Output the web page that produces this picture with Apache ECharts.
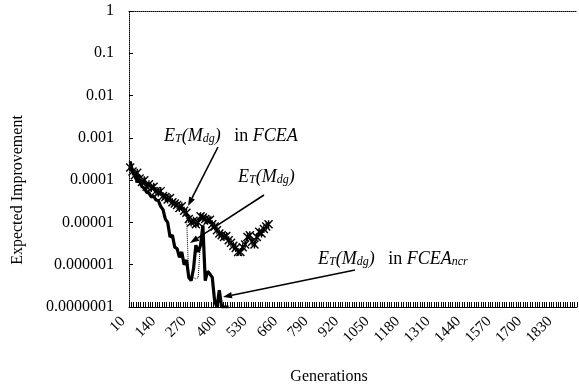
<!DOCTYPE html>
<html><head><meta charset="utf-8">
<script src="https://cdn.jsdelivr.net/npm/echarts@6/dist/echarts.min.js"></script>
<style>html,body{margin:0;padding:0;background:#fff}#c{width:579px;height:390px}</style>
</head><body><div id="c"></div>
<script>
// x tick labels (every 13th category)
const xTickLabels = [10,140,270,400,530,660,790,920,1050,1180,1310,1440,1570,1700,1830];
// y tick labels (log decades 1 .. 1e-7)
const yTickLabels = ['1','0.1','0.01','0.001','0.0001','0.00001','0.000001','0.0000001'];
// categories: generations 10..1910 step 10
const generations = [];
for (let g = 10; g <= 1910; g += 10) generations.push(String(g));

// E_T(M_dg) in FCEA  (starred line), gens 10..600
const etFCEA = [2.0e-4,1.6e-4,1.3e-4,1.5e-4,1.1e-4,9e-5,1.0e-4,7e-5,8e-5,6.5e-5,
  7e-5,5.5e-5,5e-5,5.5e-5,4.2e-5,4e-5,3.5e-5,3.8e-5,3e-5,2.8e-5,
  2.6e-5,2.2e-5,2.4e-5,1.9e-5,1.7e-5,1.2e-5,1.0e-5,1.1e-5,9e-6,1.0e-5,
  1.4e-5,1.3e-5,1.2e-5,1.1e-5,1.15e-5,9e-6,8e-6,6.5e-6,5.5e-6,5e-6,
  4.5e-6,4.8e-6,3.8e-6,3.3e-6,2.8e-6,2.5e-6,2.0e-6,2.0e-6,2.6e-6,3.0e-6,
  4.5e-6,5.0e-6,3.5e-6,3.0e-6,4.5e-6,6.0e-6,5.5e-6,7.0e-6,8.0e-6,9.0e-6];
// E_T(M_dg) (thin dotted line), gens 10..310
const etMdg = [1.9e-4,1.5e-4,1.3e-4,1.4e-4,1.05e-4,9e-5,9.5e-5,7e-5,7.5e-5,6.5e-5,
  6.5e-5,5.5e-5,5e-5,5e-5,4.2e-5,4e-5,3.4e-5,3.6e-5,3e-5,2.7e-5,
  2.5e-5,2.2e-5,2.3e-5,1.9e-5,1.6e-5,4.5e-7,4.2e-7,5e-7,4.6e-7,5e-7,3.5e-6];
// E_T(M_dg) in FCEA_ncr (thick line), gens 10..430
const etFCEAncr = [2.8e-4,1.6e-4,1.4e-4,0.9e-4,1.0e-4,7e-5,6.5e-5,5.2e-5,5.0e-5,4.0e-5,
  4.2e-5,3.4e-5,3.3e-5,2.4e-5,2.0e-5,1.2e-5,1.0e-5,4.5e-6,5.0e-6,2.6e-6,
  2.4e-6,1.5e-6,2.0e-6,1.0e-6,1.3e-6,5e-7,4.2e-7,8e-7,2.9e-6,2.0e-6,
  2.9e-6,8.5e-6,4.2e-7,7e-7,6e-7,5e-7,1.4e-7,1e-7,2.5e-7,1e-7,1e-7,1e-7,1e-7];

const FONT = 'Liberation Serif';
const chart = echarts.init(document.getElementById('c'), null, {renderer:'canvas'});

function arrow(x1,y1,x2,y2){
  const a = Math.atan2(y2-y1, x2-x1), L = 9, W = 3.2;
  const bx = x2 - L*Math.cos(a), by = y2 - L*Math.sin(a);
  const px = -Math.sin(a)*W, py = Math.cos(a)*W;
  return [
    {type:'line', shape:{x1,y1,x2:bx,y2:by}, style:{stroke:'#000', lineWidth:1.6}, z:100},
    {type:'polygon', shape:{points:[[x2,y2],[bx+px,by+py],[bx-px,by-py]]}, style:{fill:'#000'}, z:100}
  ];
}
const rich = {
  i:{fontFamily:FONT, fontStyle:'italic', fontSize:18, color:'#000', lineHeight:22, verticalAlign:'bottom'},
  s:{fontFamily:FONT, fontStyle:'italic', fontSize:12, color:'#000', lineHeight:22, verticalAlign:'bottom', padding:[7,0,0,0]},
  r:{fontFamily:FONT, fontSize:18, color:'#000', lineHeight:22, verticalAlign:'bottom'}
};
function label(x,y,text){
  return {type:'text', left:x, top:y, z:100, style:{text, rich, fill:'#000'}};
}

const starPath = 'path://M0,0L10,10M10,0L0,10M5,0L5,10';

chart.setOption({
  animation:false,
  backgroundColor:'#fff',
  grid:{left:129, right:2, top:11, bottom:81, containLabel:false},
  xAxis:[{
    type:'category', data:generations, boundaryGap:true,
    name:'Generations', nameLocation:'middle', nameGap:62,
    nameTextStyle:{fontFamily:FONT, fontSize:16, color:'#000', padding:[0,48,0,0]},
    axisLine:{lineStyle:{color:'#000', width:1}},
    axisTick:{show:true, interval:0, inside:true, length:5, lineStyle:{color:'#000', width:1}},
    axisLabel:{interval:12, rotate:45, margin:5, padding:[0,10,0,0], fontFamily:FONT, fontSize:15, color:'#000',
      formatter:v => xTickLabels.indexOf(Number(v))>=0 ? v : ''},
    splitLine:{show:false}
  },{
    type:'category', data:generations, position:'top', boundaryGap:true,
    axisLine:{lineStyle:{color:'#000', width:1, type:'dotted'}},
    axisTick:{show:false}, axisLabel:{show:false}
  }],
  yAxis:{
    type:'log', logBase:10, min:1e-7, max:1, interval:1,
    name:'Expected Improvement', nameLocation:'middle', nameGap:103,
    nameTextStyle:{fontFamily:FONT, fontSize:16, color:'#000', padding:[0,62,0,0]},
    axisLine:{show:true, lineStyle:{color:'#000', width:1, type:'dotted'}},
    axisTick:{show:true, inside:true, length:4, lineStyle:{color:'#000'}},
    axisLabel:{margin:15, fontFamily:FONT, fontSize:16, color:'#000',
      formatter:v => yTickLabels[Math.round(-Math.log10(v))]},
    splitLine:{show:false}, minorTick:{show:false}
  },
  series:[
    {name:'E_T(M_dg)', type:'line', data:etMdg, showSymbol:false, symbol:'none',
      lineStyle:{color:'#000', width:1, type:'dotted'}, z:3},
    {name:'E_T(M_dg) in FCEA', type:'line', data:etFCEA, symbol:starPath, symbolSize:8,
      showAllSymbol:true,
      itemStyle:{color:'none', borderColor:'#000', borderWidth:1.4},
      lineStyle:{color:'#000', width:1.2}, z:4},
    {name:'E_T(M_dg) in FCEA_ncr', type:'line', data:etFCEAncr, symbol:'none',
      lineStyle:{color:'#000', width:3.2}, z:5}
  ],
  graphic:[
    label(164,126,'{i|E}{s|T}{i|(M}{s|dg}{i|)}{r|   in }{i|FCEA}'),
    label(238,167,'{i|E}{s|T}{i|(M}{s|dg}{i|)}'),
    label(318,249,'{i|E}{s|T}{i|(M}{s|dg}{i|)}{r|   in }{i|FCEA}{s|ncr}'),
    ...arrow(218,147,188,206),
    ...arrow(264,195,190,243),
    ...arrow(355,270,223,297)
  ]
});
</script></body></html>
